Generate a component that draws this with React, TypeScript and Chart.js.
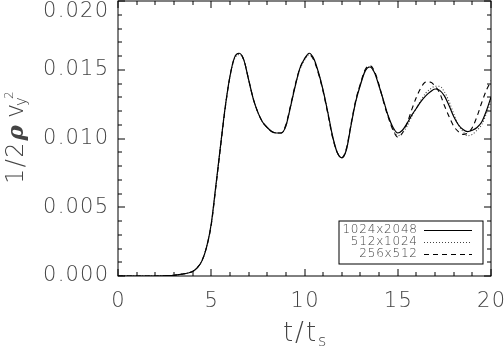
import { useEffect, useRef } from "react";
import { Chart, registerables } from "chart.js";

Chart.register(...registerables);

// time in units of t_s
const tValues = [
  0, 1, 2, 2.5,
  3, 3.25, 3.5, 3.75,
  4, 4.25, 4.5, 4.75,
  5, 5.25, 5.5, 5.75,
  6, 6.25, 6.5, 6.75,
  7, 7.25, 7.5, 7.75,
  8, 8.25, 8.5, 8.75,
  9, 9.25, 9.5, 9.75,
  10, 10.25, 10.5, 10.75,
  11, 11.25, 11.5, 11.75,
  12, 12.25, 12.5, 12.75,
  13, 13.25, 13.5, 13.75,
  14, 14.25, 14.5, 14.75,
  15, 15.25, 15.5, 15.75,
  16, 16.25, 16.5, 16.75,
  17, 17.25, 17.5, 17.75,
  18, 18.25, 18.5, 18.75,
  19, 19.25, 19.5, 19.75,
  20,
];

const series1024x2048 = [
  0, 0, 0, 0.00002,
  0.00005, 0.0001, 0.00015, 0.00022,
  0.00033, 0.0006, 0.0011, 0.0021,
  0.0038, 0.0066, 0.0095, 0.0123,
  0.0145, 0.0159, 0.0162, 0.0157,
  0.0143, 0.0129, 0.0119, 0.0112,
  0.0108, 0.0105, 0.0104, 0.0104,
  0.0109, 0.0123, 0.0138, 0.0151,
  0.0158, 0.0162, 0.0158, 0.0148,
  0.0135, 0.0119, 0.0102, 0.009,
  0.0086, 0.0092, 0.011, 0.0127,
  0.0139, 0.0149, 0.0152, 0.0148,
  0.0138, 0.0127, 0.0116, 0.0108,
  0.0104, 0.0106, 0.0111, 0.0117,
  0.0122, 0.0127, 0.0131, 0.0134,
  0.0136, 0.0135, 0.0131, 0.0124,
  0.0116, 0.011, 0.01065, 0.0105,
  0.0106, 0.0108, 0.0112, 0.012,
  0.013,
];

const series512x1024 = [
  0, 0, 0, 0.00002,
  0.00005, 0.0001, 0.00015, 0.00022,
  0.00033, 0.0006, 0.0011, 0.0021,
  0.0038, 0.0066, 0.0095, 0.0123,
  0.0145, 0.0158, 0.0161, 0.0157,
  0.0143, 0.0129, 0.0119, 0.0112,
  0.0108, 0.0105, 0.0104, 0.0104,
  0.0109, 0.0123, 0.0138, 0.015,
  0.0157, 0.0161, 0.0158, 0.0148,
  0.0135, 0.0119, 0.0102, 0.009,
  0.0086, 0.0092, 0.011, 0.0127,
  0.014, 0.0149, 0.0152, 0.0148,
  0.0138, 0.0127, 0.0116, 0.0107,
  0.0102, 0.0104, 0.0109, 0.0116,
  0.0122, 0.0128, 0.0133, 0.0136,
  0.0138, 0.0138, 0.0134, 0.0127,
  0.0118, 0.011, 0.0105, 0.0102,
  0.0103, 0.0106, 0.011, 0.0118,
  0.0127,
];

const series256x512 = [
  0, 0, 0, 0.00002,
  0.00005, 0.0001, 0.00015, 0.00022,
  0.00033, 0.0006, 0.0011, 0.0021,
  0.0037, 0.0065, 0.0094, 0.0122,
  0.0145, 0.0159, 0.0162, 0.0157,
  0.0143, 0.0129, 0.0119, 0.0112,
  0.0108, 0.0105, 0.0104, 0.0104,
  0.011, 0.0124, 0.0139, 0.0151,
  0.0158, 0.0161, 0.0157, 0.0147,
  0.0134, 0.0118, 0.0101, 0.009,
  0.0086, 0.0093, 0.0111, 0.0128,
  0.014, 0.015, 0.0153, 0.0149,
  0.0139, 0.0126, 0.0115, 0.0106,
  0.0101, 0.0104, 0.0111, 0.0121,
  0.013, 0.0137, 0.0141, 0.0141,
  0.0138, 0.0133, 0.0124, 0.0116,
  0.0109, 0.0105, 0.0103, 0.0104,
  0.0108, 0.0116, 0.0126, 0.0135,
  0.0142,
];

const seriesLabels = ["1024x2048", "512x1024", "256x512"];

const xTicks = [0, 1, 2, 3, 4, 5, 6, 7, 8, 9, 10, 11, 12, 13, 14, 15, 16, 17, 18, 19, 20];
const xMajorTicks = [0, 5, 10, 15, 20];
const xTickLabels = ["0", "5", "10", "15", "20"];

const yTicks = [
  0, 0.001, 0.002, 0.003, 0.004, 0.005, 0.006, 0.007, 0.008, 0.009, 0.01,
  0.011, 0.012, 0.013, 0.014, 0.015, 0.016, 0.017, 0.018, 0.019, 0.02,
];
const yMajorTicks = [0, 0.005, 0.01, 0.015, 0.02];
const yTickLabels = ["0.000", "0.005", "0.010", "0.015", "0.020"];

const TEXT = "#444";
const LIGHT = '200 {S}px "DejaVu Sans", "Liberation Sans", sans-serif';
const f = (size: number) => LIGHT.replace("{S}", String(size));

function drawSpaced(
  ctx: CanvasRenderingContext2D,
  text: string,
  x: number,
  y: number,
  spacing: number,
  align: "left" | "center" | "right"
) {
  const chars = Array.from(text);
  const widths = chars.map((c) => ctx.measureText(c).width);
  const total = widths.reduce((s, w) => s + w, 0) + spacing * (chars.length - 1);
  let cx = align === "right" ? x - total : align === "center" ? x - total / 2 : x;
  ctx.textAlign = "left";
  chars.forEach((c, i) => {
    ctx.fillText(c, cx, y);
    cx += widths[i] + spacing;
  });
  return total;
}

const idlAxesPlugin = {
  id: "idlAxes",
  afterDraw(chart: any) {
    const { ctx, chartArea: a, scales } = chart;
    const xs = scales.x;
    const ys = scales.y;
    ctx.save();

    // frame
    ctx.strokeStyle = "#000";
    ctx.lineWidth = 1;
    ctx.strokeRect(a.left, a.top, a.right - a.left, a.bottom - a.top);

    // ticks (inward, on all four sides)
    ctx.beginPath();
    xTicks.forEach((v) => {
      const px = Math.round(xs.getPixelForValue(v));
      const len = xMajorTicks.includes(v) ? 7 : 4;
      ctx.moveTo(px, a.bottom);
      ctx.lineTo(px, a.bottom - len);
      ctx.moveTo(px, a.top);
      ctx.lineTo(px, a.top + len);
    });
    yTicks.forEach((v) => {
      const py = Math.round(ys.getPixelForValue(v));
      const len = yMajorTicks.some((m) => Math.abs(m - v) < 1e-9) ? 7 : 4;
      ctx.moveTo(a.left, py);
      ctx.lineTo(a.left + len, py);
      ctx.moveTo(a.right, py);
      ctx.lineTo(a.right - len, py);
    });
    ctx.stroke();

    // tick labels
    ctx.fillStyle = TEXT;
    ctx.font = f(21);
    ctx.textBaseline = "middle";
    xMajorTicks.forEach((v, i) => {
      const px = xs.getPixelForValue(v);
      drawSpaced(ctx, xTickLabels[i], px, a.bottom + 26, 1.5, "center");
    });
    yMajorTicks.forEach((v, i) => {
      const py = Math.max(ys.getPixelForValue(v), 12);
      drawSpaced(ctx, yTickLabels[i], a.left - 10, py, 1.2, "right");
    });

    // x title: t/t_s
    ctx.textBaseline = "alphabetic";
    ctx.font = f(26);
    const cx = (a.left + a.right) / 2;
    const w = drawSpaced(ctx, "t/t", cx - 5, 341, 2, "center");
    ctx.font = f(16);
    ctx.textAlign = "left";
    ctx.fillText("s", cx - 5 + w / 2 + 2, 346);

    // y title: 1/2 rho v_y^2 (rotated)
    ctx.save();
    ctx.translate(23, 184);
    ctx.rotate(-Math.PI / 2);
    ctx.font = f(24);
    const w1 = drawSpaced(ctx, "1/2", 0, 0, 1.5, "left");
    ctx.font = `italic bold 23px "DejaVu Serif", serif`;
    ctx.textAlign = "left";
    ctx.fillText("ρ", w1 + 2, 0);
    ctx.font = f(24);
    ctx.fillText("v", 66, 0);
    ctx.font = f(15);
    ctx.fillText("y", 78, 3);
    ctx.font = f(12);
    ctx.fillText("2", 85, -10);
    ctx.restore();

    // legend
    const bx = a.right - 152;
    const by = a.bottom - 55;
    const bw = 144;
    const bh = 43;
    ctx.strokeStyle = "#000";
    ctx.lineWidth = 1;
    ctx.setLineDash([]);
    ctx.strokeRect(bx, by, bw, bh);
    ctx.font = f(12);
    ctx.textBaseline = "middle";
    chart.data.datasets.forEach((ds: any, i: number) => {
      const ry = by + 8.5 + i * 12.3;
      ctx.fillStyle = TEXT;
      drawSpaced(ctx, ds.label, bx + 78, ry, 0.8, "right");
      ctx.beginPath();
      ctx.strokeStyle = ds.borderColor;
      ctx.lineWidth = 1;
      ctx.setLineDash(ds.borderDash || []);
      ctx.moveTo(bx + 85, Math.round(ry) + 0.5);
      ctx.lineTo(bx + 133, Math.round(ry) + 0.5);
      ctx.stroke();
    });
    ctx.setLineDash([]);
    ctx.restore();
  },
};

export default function App() {
  const ref = useRef<HTMLCanvasElement | null>(null);

  useEffect(() => {
    const canvas = ref.current;
    if (!canvas) return;
    const mk = (vals: number[]) => tValues.map((t, i) => ({ x: t, y: vals[i] }));
    const chart = new Chart(canvas, {
      type: "line",
      data: {
        datasets: [
          {
            label: seriesLabels[0],
            data: mk(series1024x2048),
            borderColor: "#000",
            borderWidth: 1.2,
            pointRadius: 0,
            cubicInterpolationMode: "monotone",
            fill: false,
          },
          {
            label: seriesLabels[1],
            data: mk(series512x1024),
            borderColor: "#444",
            borderWidth: 1.1,
            borderDash: [1, 2],
            pointRadius: 0,
            cubicInterpolationMode: "monotone",
            fill: false,
          },
          {
            label: seriesLabels[2],
            data: mk(series256x512),
            borderColor: "#000",
            borderWidth: 1.1,
            borderDash: [5, 4],
            pointRadius: 0,
            cubicInterpolationMode: "monotone",
            fill: false,
          },
        ],
      } as any,
      options: {
        animation: false,
        responsive: false,
        devicePixelRatio: 1,
        events: [],
        layout: { padding: { left: 118, top: 1, right: 13, bottom: 70 } },
        scales: {
          x: { type: "linear", min: 0, max: 20, display: false },
          y: { type: "linear", min: 0, max: 0.02, display: false },
        },
        plugins: { legend: { display: false }, tooltip: { enabled: false } },
      } as any,
      plugins: [idlAxesPlugin],
    });
    return () => chart.destroy();
  }, []);

  return (
    <div style={{ position: "fixed", left: 0, top: 0, width: 504, height: 346, background: "#fff" }}>
      <canvas ref={ref} width={504} height={346} style={{ display: "block", width: 504, height: 346 }} />
    </div>
  );
}
